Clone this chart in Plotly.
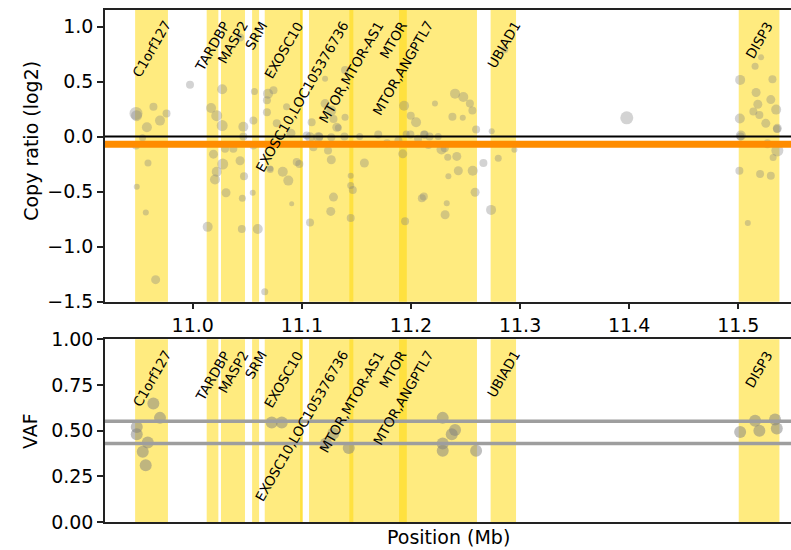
import plotly.graph_objects as go

# ---- data ----
gene_names = ["C1orf127", "TARDBP", "MASP2", "SRM", "EXOSC10", "EXOSC10,LOC105376736",
              "MTOR", "MTOR,MTOR-AS1", "MTOR,ANGPTL7", "UBIAD1", "DISP3"]
gene_start = [10.9472, 11.0128, 11.0259, 11.0544, 11.0660, 11.0984,
              11.1066, 11.1435, 11.1891, 11.2730, 11.5004]
gene_end = [10.9773, 11.0235, 11.0479, 11.0608, 11.1007, 11.1007,
            11.2605, 11.1472, 11.1962, 11.2963, 11.5377]

cn_pos = [10.9480, 10.9485, 10.9640, 10.9580, 10.9700, 10.9760, 10.9975, 10.9480, 10.9540, 10.9590,
          10.9487, 10.9570, 10.9660, 11.0168, 11.0220, 11.0270, 11.0270, 11.0464, 11.0434, 11.0565,
          11.0556, 11.0690, 11.0740, 11.0680, 11.0680, 11.0770, 11.0296, 11.0372, 11.0190, 11.0275,
          11.0434, 11.0220, 11.0204, 11.0470, 11.0305, 11.0455, 11.0550, 11.0137, 11.0450, 11.0596,
          11.0660, 11.0710, 11.0712, 11.0825, 11.0876, 11.0907, 11.0953, 11.0977, 11.0860, 11.0556,
          11.0464, 11.0900, 11.1090, 11.1213, 11.1213, 11.1270, 11.1290, 11.1320, 11.1335, 11.1396,
          11.1396, 11.1075, 11.1150, 11.1160, 11.1106, 11.1240, 11.1270, 11.1270, 11.1448, 11.1448,
          11.1467, 11.1290, 11.1265, 11.1448, 11.1075, 11.1573, 11.1937, 11.1998, 11.2047, 11.2220,
          11.2404, 11.2480, 11.2540, 11.2563, 11.2380, 11.2475, 11.2597, 11.2740, 11.2860, 11.2120,
          11.2125, 11.1956, 11.1885, 11.1780, 11.1925, 11.2160, 11.2280, 11.2310, 11.2337, 11.2420,
          11.2434, 11.2566, 11.2343, 11.2664, 11.2800, 11.2948, 11.2588, 11.2100, 11.2118, 11.2328,
          11.2313, 11.2734, 11.1946, 11.1045, 11.1390, 11.1530, 11.1700, 11.1995, 11.2065, 11.2170,
          11.2250, 11.3978, 11.5209, 11.5154, 11.5017, 11.5313, 11.5163, 11.5298, 11.5179, 11.5138,
          11.5193, 11.5347, 11.5014, 11.5252, 11.5358, 11.5355, 11.5023, 11.5020, 11.5267, 11.5358,
          11.5319, 11.5010, 11.5200, 11.5298, 11.5087]
cn_log2 = [0.21, 0.19, 0.27, 0.085, 0.145, 0.21, 0.47, -0.08, -0.01, -0.24,
           -0.455, -0.69, -1.30, 0.26, 0.19, 0.43, 0.10, 0.09, 0.90, 0.41,
           0.145, 0.39, 0.42, 0.33, 0.22, 0.12, -0.11, -0.11, -0.16, -0.25,
           -0.22, -0.32, -0.39, -0.36, -0.51, -0.56, -0.51, -0.82, -0.84, -0.84,
           -1.41, -0.30, -0.29, -0.32, -0.40, -0.61, -0.23, -0.25, 0.27, -0.08,
           0.00, 0.03, 0.13, 0.525, 0.30, 0.236, 0.16, 0.085, 0.08, 0.175,
           0.606, -0.006, -0.006, 0.00, -0.097, -0.127, -0.006, -0.21, -0.355, -0.445,
           -0.485, -0.55, -0.68, -0.74, -0.78, -0.24, 0.28, 0.19, 0.13, 0.30,
           0.39, 0.36, 0.30, 0.236, 0.18, 0.17, 0.064, 0.048, 0.79, 0.018,
           0.02, 0.024, -0.036, -0.06, -0.157, -0.08, -0.118, -0.105, -0.188, -0.18,
           -0.31, -0.31, -0.36, -0.24, -0.197, -0.12, -0.506, -0.56, -0.545, -0.606,
           -0.71, -0.666, -0.77, 0.01, 0.00, 0.00, 0.02, 0.02, -0.02, 0.00,
           0.00, 0.17, 0.72, 0.64, 0.515, 0.52, 0.40, 0.336, 0.294, 0.227,
           0.197, 0.245, 0.164, 0.12, 0.075, 0.07, 0.01, 0.00, -0.066, -0.127,
           -0.19, -0.31, -0.34, -0.355, -0.785]
cn_weight = [13, 11, 8, 10, 10, 8, 8, 8, 7, 7,
             6, 6, 9, 10, 11, 10, 11, 10, 8, 7,
             8, 10, 8, 8, 8, 8, 8, 8, 9, 11,
             9, 10, 10, 8, 9, 7, 6, 10, 8, 10,
             7, 7, 6, 10, 10, 5, 8, 8, 7, 8,
             8, 9, 8, 6, 9, 10, 8, 9, 7, 7,
             8, 10, 10, 8, 8, 8, 8, 9, 6, 7,
             8, 9, 9, 8, 8, 9, 10, 8, 10, 6,
             10, 10, 8, 8, 8, 6, 8, 6, 7, 8,
             8, 7, 8, 8, 9, 7, 10, 8, 7, 9,
             9, 10, 6, 8, 7, 6, 9, 8, 8, 6,
             9, 10, 8, 8, 8, 7, 8, 8, 8, 8,
             7, 13, 6, 7, 10, 8, 9, 9, 9, 8,
             8, 10, 10, 9, 9, 8, 10, 8, 9, 12,
             7, 8, 8, 8, 6]

segment_log2 = -0.07

vaf_pos = [10.9639, 10.9700, 10.9487, 10.9487, 10.9588, 10.9542, 10.9569, 11.0724, 11.0816,
           11.1289, 11.1222, 11.1430, 11.2291, 11.2404, 11.2374, 11.2291, 11.2291, 11.2597,
           11.5017, 11.5154, 11.5193, 11.5337, 11.5353]
vaf_val = [0.649, 0.57, 0.52, 0.48, 0.435, 0.384, 0.311, 0.545, 0.545,
           0.485, 0.43, 0.405, 0.57, 0.503, 0.48, 0.43, 0.39, 0.39,
           0.493, 0.554, 0.499, 0.561, 0.512]
vaf_segments = [0.552, 0.43]

x_range = [10.9196, 11.5483]
top_y_range = [-1.5, 1.15]

# ---- figure ----
FONT = "DejaVu Sans"
fig = go.Figure()

pt_color = "rgba(128,128,128,0.5)"
fig.add_trace(go.Scatter(x=cn_pos, y=cn_log2, mode="markers", xaxis="x", yaxis="y",
                         marker=dict(size=cn_weight, color=pt_color, line=dict(width=0)),
                         showlegend=False, hoverinfo="x+y"))
fig.add_trace(go.Scatter(x=x_range, y=[0, 0], mode="lines", xaxis="x", yaxis="y",
                         line=dict(color="black", width=2), showlegend=False, hoverinfo="skip"))
fig.add_trace(go.Scatter(x=x_range, y=[segment_log2] * 2, mode="lines", xaxis="x", yaxis="y",
                         line=dict(color="#FF8C00", width=7), showlegend=False, hoverinfo="skip"))

fig.add_trace(go.Scatter(x=vaf_pos, y=vaf_val, mode="markers", xaxis="x2", yaxis="y2",
                         marker=dict(size=12, color=pt_color, line=dict(width=0)),
                         showlegend=False, hoverinfo="x+y"))
for v in vaf_segments:
    fig.add_trace(go.Scatter(x=x_range, y=[v, v], mode="lines", xaxis="x2", yaxis="y2",
                             line=dict(color="#9E9E9E", width=3.5), showlegend=False,
                             hoverinfo="skip"))

shapes = []
annotations = []
for name, s, e in zip(gene_names, gene_start, gene_end):
    for xr, yr, ytop in (("x", "y", 1.085), ("x2", "y2", 0.96)):
        shapes.append(dict(type="rect", xref=xr, yref=yr + " domain", x0=s, x1=e, y0=0, y1=1,
                           fillcolor="gold", opacity=0.5, line=dict(width=0), layer="below"))
        annotations.append(dict(x=(s + e) / 2, y=ytop, xref=xr, yref=yr, text=name,
                                showarrow=False, textangle=-60, xanchor="center",
                                yanchor="top", font=dict(family=FONT, size=13.5, color="black"),
                                borderpad=0))

annotations += [
    dict(text="Copy ratio (log2)", xref="paper", yref="paper", x=-0.109, y=0.745,
         textangle=-90, showarrow=False, font=dict(family=FONT, size=19, color="black"),
         xanchor="center", yanchor="middle"),
    dict(text="VAF", xref="paper", yref="paper", x=-0.109, y=0.178,
         textangle=-90, showarrow=False, font=dict(family=FONT, size=19, color="black"),
         xanchor="center", yanchor="middle"),
    dict(text="Position (Mb)", xref="paper", yref="paper", x=0.5, y=-0.029,
         showarrow=False, font=dict(family=FONT, size=19, color="black"),
         xanchor="center", yanchor="middle"),
]

axis_common = dict(showgrid=False, zeroline=False, linecolor="#222", linewidth=1.5,
                   ticks="outside", ticklen=6, tickwidth=1.5, tickcolor="#222",
                   tickfont=dict(family=FONT, size=19, color="black"))

fig.update_layout(
    width=791, height=550,
    margin=dict(l=105, r=0, t=10, b=28),
    plot_bgcolor="white", paper_bgcolor="white",
    xaxis=dict(domain=[0, 1], anchor="y", range=x_range, mirror=True, showline=True,
               tickvals=[11.0, 11.1, 11.2, 11.3, 11.4, 11.5],
               ticktext=["11.0", "11.1", "11.2", "11.3", "11.4", "11.5"], **axis_common),
    yaxis=dict(domain=[0.4303, 1], anchor="x", range=top_y_range, showline=True,
               tickvals=[-1.5, -1.0, -0.5, 0.0, 0.5, 1.0],
               ticktext=["\u22121.5", "\u22121.0", "\u22120.5", "0.0", "0.5", "1.0"],
               **axis_common),
    xaxis2=dict(domain=[0, 1], anchor="y2", range=x_range, mirror=True, showline=True,
                matches="x", showticklabels=False,
                **{k: v for k, v in axis_common.items() if k not in ("ticks",)}, ),
    yaxis2=dict(domain=[0, 0.3568], anchor="x2", range=[0, 1], showline=True,
                tickvals=[0, 0.25, 0.5, 0.75, 1.0],
                ticktext=["0.00", "0.25", "0.50", "0.75", "1.00"], **axis_common),
    shapes=shapes, annotations=annotations,
)
fig.layout.xaxis2.ticks = ""

fig.write_html("out.html", config={"displayModeBar": False},
               post_script="document.body.style.margin='0px';document.body.style.overflow='hidden';")
